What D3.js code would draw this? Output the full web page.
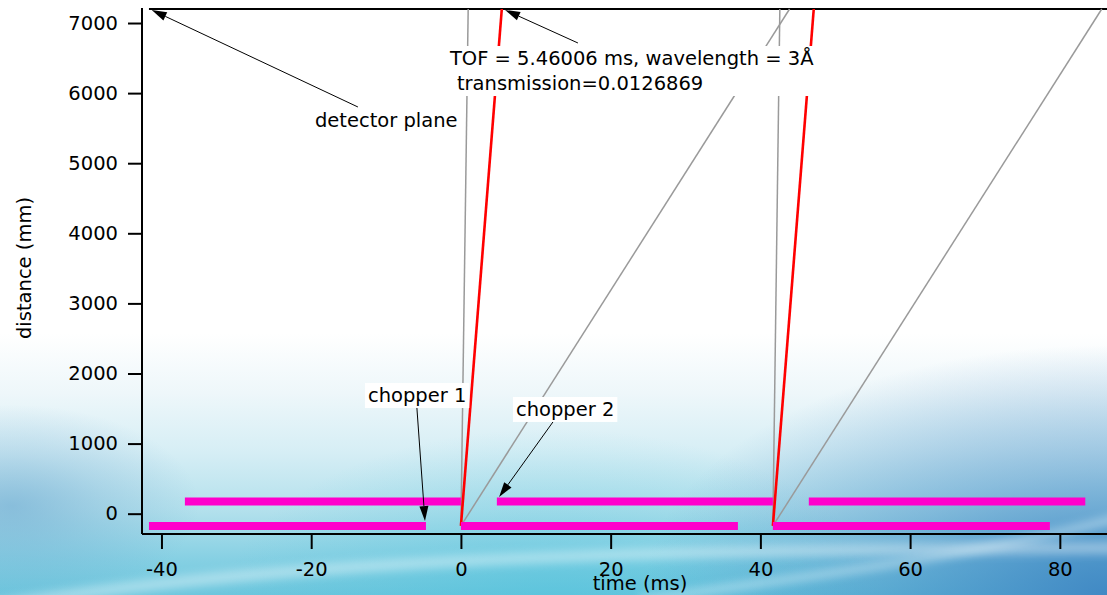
<!DOCTYPE html>
<html>
<head>
<meta charset="utf-8">
<script src="https://cdn.jsdelivr.net/npm/d3@7"></script>
<style>
  html, body { margin: 0; padding: 0; overflow: hidden; }
  svg { display: block; font-family: "DejaVu Sans", Verdana, sans-serif; }
</style>
</head>
<body>
<svg id="chart" width="1107" height="595"></svg>
<script>
// Two-chopper time-of-flight diagram: chopper closed intervals and neutron paths.

// Chopper 1 (upstream) closed intervals, ms
const chopper1Start = [-41.67, 0, 41.67];
const chopper1End   = [-4.67, 37.0, 78.67];
// Chopper 2 (downstream) closed intervals, ms
const chopper2Start = [-36.87, 4.8, 46.47];
const chopper2End   = [0, 41.67, 83.4];
// Chopper positions along the beam, mm
const chopperDistance = [-175, 175];
const detectorDistance = 7200;
const detectorStart = -41.67;
const detectorEnd = 90;

// Neutron paths: emission time at chopper 1 and arrival at the detector, ms
const pulseStart      = [0, 41.67];
const fastestArrival  = [0.97, 42.6];
const selectedArrival = [5.46006, 47.13];
const slowestArrival  = [43.9, 85.6];

const xTicks = [-40, -20, 0, 20, 40, 60, 80];
const yTicks = [0, 1000, 2000, 3000, 4000, 5000, 6000, 7000];

const svg = d3.select("#chart");
const W = 1107, H = 595;

// ---- backdrop ----
const defs = svg.append("defs");
const bg = defs.append("linearGradient").attr("id", "bgv").attr("x1", 0).attr("y1", 0).attr("x2", 0).attr("y2", 1);
[[0, "#ffffff"], [0.56, "#ffffff"], [0.66, "#eef7fa"], [0.76, "#d6eef5"], [0.86, "#b2e0ec"], [0.94, "#86d0e3"], [1, "#6cc6dd"]]
  .forEach(([o, c]) => bg.append("stop").attr("offset", o).attr("stop-color", c));
function radial(id, cx, cy, r, color, op) {
  const g = defs.append("radialGradient").attr("id", id).attr("cx", cx).attr("cy", cy).attr("r", r);
  g.append("stop").attr("offset", 0).attr("stop-color", color).attr("stop-opacity", op);
  g.append("stop").attr("offset", 0.5).attr("stop-color", color).attr("stop-opacity", op * 0.45);
  g.append("stop").attr("offset", 1).attr("stop-color", color).attr("stop-opacity", 0);
}
radial("bgr", 1, 1, 0.42, "#3f86c3", 0.95);
radial("bgl", 0.01, 0.85, 0.17, "#6aa6cf", 0.6);
radial("bgc", 0.5, 1.02, 0.3, "#4fc3dc", 0.55);
defs.append("filter").attr("id", "soft").attr("x", -0.2).attr("y", -0.5).attr("width", 1.4).attr("height", 2)
  .append("feGaussianBlur").attr("stdDeviation", 5);

svg.append("rect").attr("width", W).attr("height", H).attr("fill", "url(#bgv)");
["bgc", "bgl", "bgr"].forEach(id => svg.append("rect").attr("width", W).attr("height", H).attr("fill", `url(#${id})`));
// light sweeps across the lower part
svg.append("path").attr("d", "M-40,612 C200,570 500,548 1150,548")
  .attr("fill", "none").attr("stroke", "#ffffff").attr("stroke-width", 11).attr("opacity", 0.4).attr("filter", "url(#soft)");
svg.append("path").attr("d", "M640,600 C820,575 980,555 1130,515")
  .attr("fill", "none").attr("stroke", "#e8f6fb").attr("stroke-width", 7).attr("opacity", 0.5).attr("filter", "url(#soft)");

// ---- scales ----
const x = d3.scaleLinear().domain([-42.6, 86.3]).range([142, 1107]);
const y = d3.scaleLinear().domain([-290, 7200]).range([534, 9]);

// ---- axes ----
const font = "19.5px";
const plain = d => String(d);
const xAxis = svg.append("g").attr("transform", `translate(0,${y(-290)})`)
  .call(d3.axisBottom(x).tickValues(xTicks).tickSize(15).tickPadding(13).tickFormat(plain));
const yAxis = svg.append("g").attr("transform", `translate(${x(-42.6)},0)`)
  .call(d3.axisLeft(y).tickValues(yTicks).tickSize(14).tickPadding(10).tickFormat(plain));
[xAxis, yAxis].forEach(g => {
  g.select(".domain").attr("stroke", "#000").attr("stroke-width", 2);
  g.selectAll(".tick line").attr("stroke", "#000").attr("stroke-width", 2);
  g.selectAll(".tick text").attr("fill", "#000").style("font-size", font).style("font-family", "DejaVu Sans");
});
xAxis.select(".domain").attr("d", `M${x(-42.6)},0H${W}`);
yAxis.select(".domain").attr("d", `M0,${y(-290)}V${y(7200) - 1}`);

svg.append("text").attr("x", 640).attr("y", 590).attr("text-anchor", "middle")
  .style("font-size", font).text("time (ms)");
svg.append("text").attr("transform", "translate(31,268) rotate(-90)").attr("text-anchor", "middle")
  .style("font-size", font).text("distance (mm)");

const plot = svg.append("g");

// detector plane
plot.append("line")
  .attr("x1", x(detectorStart)).attr("x2", x(detectorEnd))
  .attr("y1", y(detectorDistance)).attr("y2", y(detectorDistance))
  .attr("stroke", "#000").attr("stroke-width", 2);

// neutron paths
const pathsFrom = (arrivals) => pulseStart.map((t0, i) => ({ t0, t1: arrivals[i] }));
function drawPaths(data, color, width) {
  plot.selectAll(null).data(data).enter().append("line")
    .attr("x1", d => x(d.t0)).attr("y1", y(chopperDistance[0]))
    .attr("x2", d => x(d.t1)).attr("y2", y(detectorDistance))
    .attr("stroke", color).attr("stroke-width", width);
}
drawPaths(pathsFrom(fastestArrival), "#9a9a9a", 1.5);
drawPaths(pathsFrom(slowestArrival), "#9a9a9a", 1.5);
drawPaths(pathsFrom(selectedArrival), "#ff0000", 2.6);

// chopper closed intervals
function drawChopper(starts, ends, dist) {
  plot.selectAll(null).data(starts.map((s, i) => [s, ends[i]])).enter().append("line")
    .attr("x1", d => x(d[0])).attr("x2", d => x(d[1]))
    .attr("y1", y(dist)).attr("y2", y(dist))
    .attr("stroke", "#ff00cc").attr("stroke-width", 8);
}
drawChopper(chopper1Start, chopper1End, chopperDistance[0]);
drawChopper(chopper2Start, chopper2End, chopperDistance[1]);

// ---- annotations ----
function arrow(from, to) {
  const [x0, y0] = [x(from[0]), y(from[1])];
  const [x1, y1] = [x(to[0]), y(to[1])];
  const a = Math.atan2(y1 - y0, x1 - x0);
  const len = 15, half = 4.5;
  const bx = x1 - len * Math.cos(a), by = y1 - len * Math.sin(a);
  plot.append("line").attr("x1", x0).attr("y1", y0).attr("x2", bx).attr("y2", by)
    .attr("stroke", "#000").attr("stroke-width", 1);
  plot.append("path")
    .attr("d", `M${x1},${y1}L${bx + half * Math.sin(a)},${by - half * Math.cos(a)}L${bx - half * Math.sin(a)},${by + half * Math.cos(a)}Z`)
    .attr("fill", "#000");
}
function label(lines, at, boxed, dy) {
  const g = plot.append("g");
  const t = g.append("text").attr("x", x(at[0])).attr("y", y(at[1])).style("font-size", font).attr("fill", "#000");
  lines.forEach((s, i) => t.append("tspan").attr("x", x(at[0]) + (s.indent || 0)).attr("dy", i ? dy : 0).text(s.text));
  if (boxed) {
    const b = t.node().getBBox();
    g.insert("rect", "text").attr("x", b.x - 3).attr("y", b.y - 1).attr("width", b.width + 6).attr("height", b.height + 2)
      .attr("fill", "#ffffff");
  }
}

arrow([-13.76, 5802], [-41.3, 7186]);
label([{ text: "detector plane" }], [-19.5, 5517], false);

label([{ text: "TOF = 5.46006 ms, wavelength = 3Å" }, { text: "transmission=0.0126869", indent: 7 }], [-1.47, 6401], true, 25);
arrow([15.63, 6715], [5.9, 7186]);

label([{ text: "chopper 1" }], [-12.42, 1593], true);
arrow([-5.88, 1508], [-4.8, -105]);

label([{ text: "chopper 2" }], [7.35, 1394], true);
arrow([12.29, 1308], [5.1, 238]);
</script>
</body>
</html>
